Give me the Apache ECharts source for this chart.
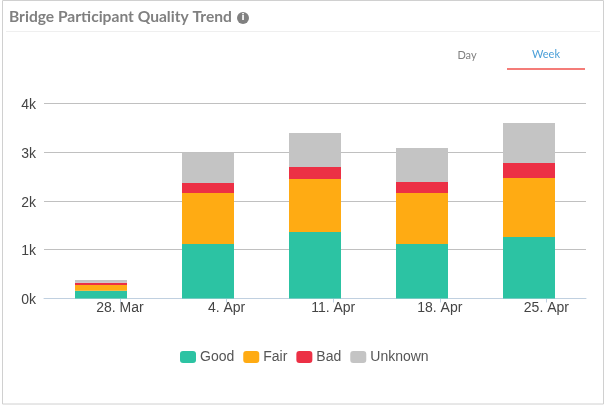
<!DOCTYPE html>
<html><head><meta charset="utf-8">
<style>html,body{margin:0;padding:0;background:#fff}#c{width:607px;height:406px}</style>
<script src="https://cdn.jsdelivr.net/npm/echarts@6/dist/echarts.min.js"></script>
</head><body><div id="c"></div>
<script>
const categories = ['28. Mar','4. Apr','11. Apr','18. Apr','25. Apr'];
const tickDays = [0,7,14,21,28];
const good = [160,1115,1360,1115,1258];
const fair = [115,1045,1085,1045,1207];
const bad = [45,205,245,225,305];
const unknown = [60,615,695,695,820];
const seriesNames = ['Good','Fair','Bad','Unknown'];
const yTicks = ['0k','1k','2k','3k','4k'];
const colors = ['#2CC3A3','#FFAB13','#EC3045','#C4C4C4'];
const chart = echarts.init(document.getElementById('c'),null,{renderer:'canvas'});
const labelFont = {fontFamily:'Liberation Sans',fontSize:14,color:'#444'};
chart.setOption({
  animation:false,
  title:{text:'Bridge Participant Quality Trend',left:9,top:9,padding:0,
    textStyle:{fontFamily:'Lato',fontWeight:'bold',fontSize:15.6,color:'#808080'}},
  legend:{left:180,top:350,padding:0,itemWidth:16,itemHeight:12,itemGap:9,
    data:seriesNames,icon:'roundRect',
    textStyle:{fontFamily:'Liberation Sans',fontSize:14,color:'#555',padding:[0,0,0,-1]}},
  grid:[
    {left:47.5,top:103,width:535,height:195.5},
    {left:44,top:103,width:542,height:195.5}
  ],
  xAxis:[
    {type:'category',gridIndex:0,data:categories,show:false},
    {type:'value',gridIndex:1,min:-4.99,max:30.6,
      splitLine:{show:false},
      axisLine:{show:true,onZero:false,lineStyle:{color:'#C0D0E0',width:1}},
      axisTick:{show:true,length:4,lineStyle:{color:'#C0D0E0'},customValues:tickDays},
      axisLabel:Object.assign({customValues:tickDays,margin:3,hideOverlap:false,
        formatter:v=>categories[tickDays.indexOf(v)]},labelFont)}
  ],
  yAxis:[
    {type:'value',gridIndex:0,min:0,max:4000,show:false},
    {type:'value',gridIndex:1,min:0,max:4000,interval:1000,
      axisLine:{show:false},axisTick:{show:false},
      splitLine:{lineStyle:{color:'#C0C0C0',width:1}},
      axisLabel:Object.assign({margin:8,formatter:v=>'{a|'+yTicks[v/1000]+'}',
        rich:{a:Object.assign({padding:[4,0,0,0]},labelFont)}},labelFont)}
  ],
  series:[good,fair,bad,unknown].map((d,i)=>({
    name:seriesNames[i],type:'bar',stack:'q',barWidth:52,xAxisIndex:0,yAxisIndex:0,data:d,
    itemStyle:{color:colors[i]},emphasis:{disabled:true}})),
  graphic:[
    {type:'rect',silent:true,z:-1,shape:{x:2.5,y:0.5,width:601,height:403.5},style:{fill:'none',stroke:'#D0D0D0',lineWidth:1}},
    {type:'line',silent:true,shape:{x1:6,y1:31.5,x2:600,y2:31.5},style:{stroke:'#EFEFEF',lineWidth:1}},
    {type:'circle',silent:true,shape:{cx:243,cy:18,r:6},style:{fill:'#808080'}},
    {type:'text',silent:true,x:243,y:18,style:{text:'i',fill:'#fff',fontFamily:'DejaVu Sans',fontWeight:'bold',fontSize:9,align:'center',verticalAlign:'middle'}},
    {type:'text',silent:true,x:467,y:55,style:{text:'Day',fill:'#808080',fontFamily:'Lato',fontSize:11,align:'center',verticalAlign:'middle'}},
    {type:'text',silent:true,x:546,y:54,style:{text:'Week',fill:'#4A9FD8',fontFamily:'Lato',fontSize:11,align:'center',verticalAlign:'middle'}},
    {type:'line',silent:true,shape:{x1:507,y1:69,x2:585,y2:69},style:{stroke:'#F47C78',lineWidth:2}}
  ]
});
</script></body></html>
